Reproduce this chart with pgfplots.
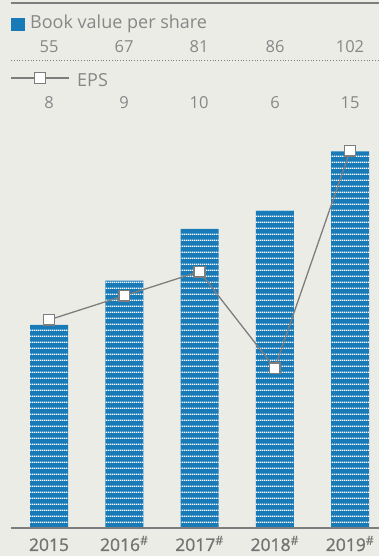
\documentclass[border=0pt]{standalone}
\usepackage{fontspec}
\setmainfont{Open Sans}
\newfontfamily\yearfont[FakeBold=1.0]{Open Sans}
\usepackage{pgfplots}
\pgfplotsset{compat=1.18}
\usetikzlibrary{patterns.meta}
\definecolor{bg}{RGB}{236,236,231}
\definecolor{barblue}{RGB}{25,122,184}
\definecolor{txtgray}{RGB}{135,135,135}
\definecolor{yeargray}{RGB}{115,115,115}
\definecolor{linegray}{RGB}{125,125,125}
\tikzdeclarepattern{name=hstripes, type=uncolored,
  bottom left={(0pt,0pt)}, top right={(2pt,5.5pt)}, tile size={(2pt,5.5pt)},
  code={\fill (0pt,0pt) rectangle (2pt,1.5pt);}}
\begin{document}
\begin{tikzpicture}[x=1pt,y=1pt]
\fill[bg] (0,0) rectangle (379,556);
\useasboundingbox (0,0) rectangle (379,556);
% header / legend
\draw[linegray, line width=1.3pt] (11,553) -- (379,553);
\fill[barblue] (11,525) rectangle (24.5,538);
\node[anchor=base west, font=\fontsize{18}{20}\selectfont, text=txtgray, inner sep=0] at (30,527) {Book value per share};
\foreach \x/\v in {49/55,124/67,199/81,275/86,350/102}
  \node[anchor=base, font=\fontsize{16.5}{18}\selectfont, text=txtgray, inner sep=0] at (\x,503) {\v};
\draw[linegray, line width=0.8pt, dotted] (11,496) -- (379,496);
\draw[linegray, line width=1.3pt] (11,478) -- (69,478);
\draw[linegray, line width=1.5pt, fill=white] (34.7,472.7) rectangle (45.3,483.3);
\node[anchor=base west, font=\fontsize{18}{20}\selectfont, text=txtgray, inner sep=0] at (77,469) {EPS};
\foreach \x/\v in {49/8,124/9,199/10,275/6,350/15}
  \node[anchor=base, font=\fontsize{16.5}{18}\selectfont, text=txtgray, inner sep=0] at (\x,447) {\v};
% bars
\begin{axis}[at={(11pt,28pt)}, anchor=south west, scale only axis,
  width=368pt, height=388pt, xmin=-0.505, xmax=4.385, ymin=0, ymax=105.1,
  axis lines=none, clip=false]
\addplot[ybar, bar width=38pt, draw=none, fill=barblue,
  postaction={pattern=hstripes, pattern color=white}]
  coordinates {(0,55)(1,67)(2,81)(3,86)(4,102)};
\foreach \i/\lab in {0/2015,1/2016\textsuperscript{\#},2/2017\textsuperscript{\#},3/2018\textsuperscript{\#},4/2019\textsuperscript{\#}}{
  \edef\temp{\noexpand\node[anchor=base, font=\noexpand\yearfont\noexpand\fontsize{17.5}{19}\noexpand\selectfont, text=yeargray, inner sep=0] at (axis cs:\i,0) [yshift=-23pt] {\unexpanded\expandafter{\lab}};}
  \temp
}
\end{axis}
\draw[linegray, line width=1.3pt] (11,28) -- (379,28);
% EPS line
\begin{axis}[at={(11pt,28pt)}, anchor=south west, scale only axis,
  width=368pt, height=388pt, xmin=-0.505, xmax=4.385, ymin=-0.62, ymax=15.45,
  axis lines=none, clip=false]
\addplot[linegray, line width=1.3pt, mark=square*, mark size=5.3pt,
  mark options={fill=white, draw=linegray, line width=1.5pt}]
  coordinates {(0,8)(1,9)(2,10)(3,6)(4,15)};
\end{axis}
\end{tikzpicture}
\end{document}
